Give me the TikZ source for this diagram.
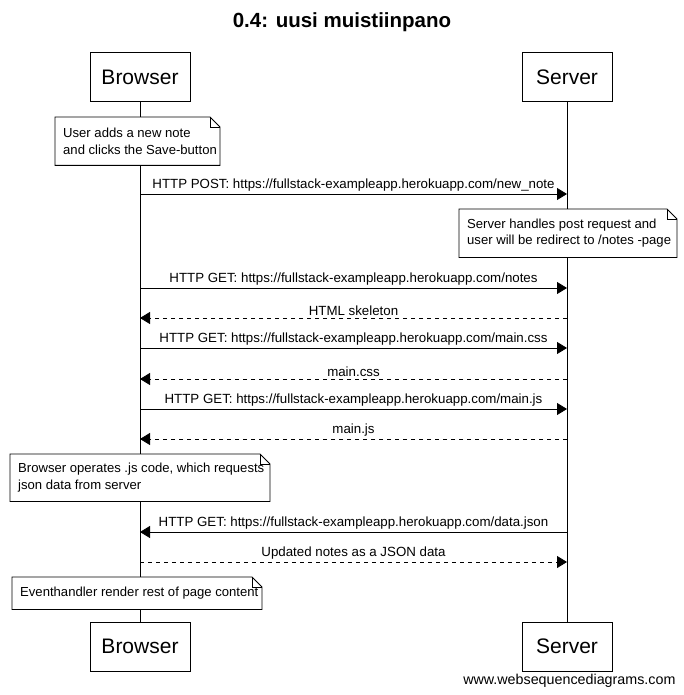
\documentclass[tikz,border=0pt]{standalone}
\usepackage{fontspec}
\setmainfont{Liberation Sans}
\usepackage{tikz}
\usetikzlibrary{arrows.meta, positioning, calc}

\tikzset{
  actor/.style={draw, fill=white, line width=1pt, minimum height=49pt, font=\fontsize{21}{24}\selectfont},
  notebox/.style={anchor=north west, fill=white, inner xsep=8pt, inner ysep=0pt, align=left, font=\fontsize{13.1}{16.5}\selectfont},
  noteline/.style={line width=0.8pt},
  lifeline/.style={line width=0.8pt},
  msg/.style={line width=0.8pt, -{Triangle[length=10pt, width=12pt]}},
  reply/.style={msg, dash pattern=on 4pt off 4pt},
  lbl/.style={above=1pt, midway, font=\fontsize{13.3}{15}\selectfont, inner sep=1pt}
}

% note outline with folded corner: #1 node, #2 width
\newcommand{\notefold}[2]{%
  \draw[noteline] (#1.south west) -- ([xshift=#2]#1.south west) -- ([xshift=#2, yshift=-10pt]#1.north west)
    -- ([xshift=#2-10pt]#1.north west) -- (#1.north west) -- cycle;
  \draw[noteline] ([xshift=#2-10pt]#1.north west) -- ([xshift=#2-10pt, yshift=-10pt]#1.north west)
    -- ([xshift=#2, yshift=-10pt]#1.north west);
}

\begin{document}
\begin{tikzpicture}[x=1pt, y=-1pt]
  \useasboundingbox (0,0) rectangle (684,695);

  % Title
  \node (title) at (342,22) {\fontsize{20.5}{24}\selectfont\bfseries 0.4: uusi muistiinpano};

  % Actors
  \node[actor, minimum width=100pt] (btop) at (140,77.5) {Browser};
  \node[actor, minimum width=90pt] (stop) at (567,77.5) {Server};
  \node[actor, minimum width=100pt] (bbot) at (140,646.5) {Browser};
  \node[actor, minimum width=90pt] (sbot) at (567,646.5) {Server};

  % Lifelines
  \draw[lifeline] (btop) -- (bbot);
  \draw[lifeline] (stop) -- (sbot);

  % Note 1
  \node[notebox, minimum height=48pt] (n1) at (55,117)
    {User adds a new note\\and clicks the Save-button};
  \notefold{n1}{165pt}

  \draw[msg] (btop |- 0,194) -- (stop |- 0,194)
    node[lbl] {HTTP POST: https://fullstack-exampleapp.herokuapp.com/new\_note};

  % Note 2
  \node[notebox, minimum height=48pt] (n2) at (459,209)
    {Server handles post request and\\user will be redirect to /notes -page};
  \notefold{n2}{218pt}

  \draw[msg] (btop |- 0,288) -- (stop |- 0,288)
    node[lbl] {HTTP GET: https://fullstack-exampleapp.herokuapp.com/notes};
  \draw[reply] (stop |- 0,318) -- (btop |- 0,318)
    node[lbl] {HTML skeleton};
  \draw[msg] (btop |- 0,348) -- (stop |- 0,348)
    node[lbl] {HTTP GET: https://fullstack-exampleapp.herokuapp.com/main.css};
  \draw[reply] (stop |- 0,379) -- (btop |- 0,379)
    node[lbl] {main.css};
  \draw[msg] (btop |- 0,409) -- (stop |- 0,409)
    node[lbl] {HTTP GET: https://fullstack-exampleapp.herokuapp.com/main.js};
  \draw[reply] (stop |- 0,439) -- (btop |- 0,439)
    node[lbl] {main.js};

  % Note 3
  \node[notebox, minimum height=47pt] (n3) at (10,454)
    {Browser operates .js code, which requests\\json data from server};
  \notefold{n3}{260pt}

  \draw[msg] (stop |- 0,532) -- (btop |- 0,532)
    node[lbl] {HTTP GET: https://fullstack-exampleapp.herokuapp.com/data.json};
  \draw[reply] (btop |- 0,562) -- (stop |- 0,562)
    node[lbl] {Updated notes as a JSON data};

  % Note 4
  \node[notebox, minimum height=32pt] (n4) at (12,577)
    {Eventhandler render rest of page content};
  \notefold{n4}{250pt}

  % Footer
  \node[anchor=east, font=\fontsize{14.3}{16}\selectfont] (footer) at (679,681) {www.websequencediagrams.com};
\end{tikzpicture}
\end{document}
